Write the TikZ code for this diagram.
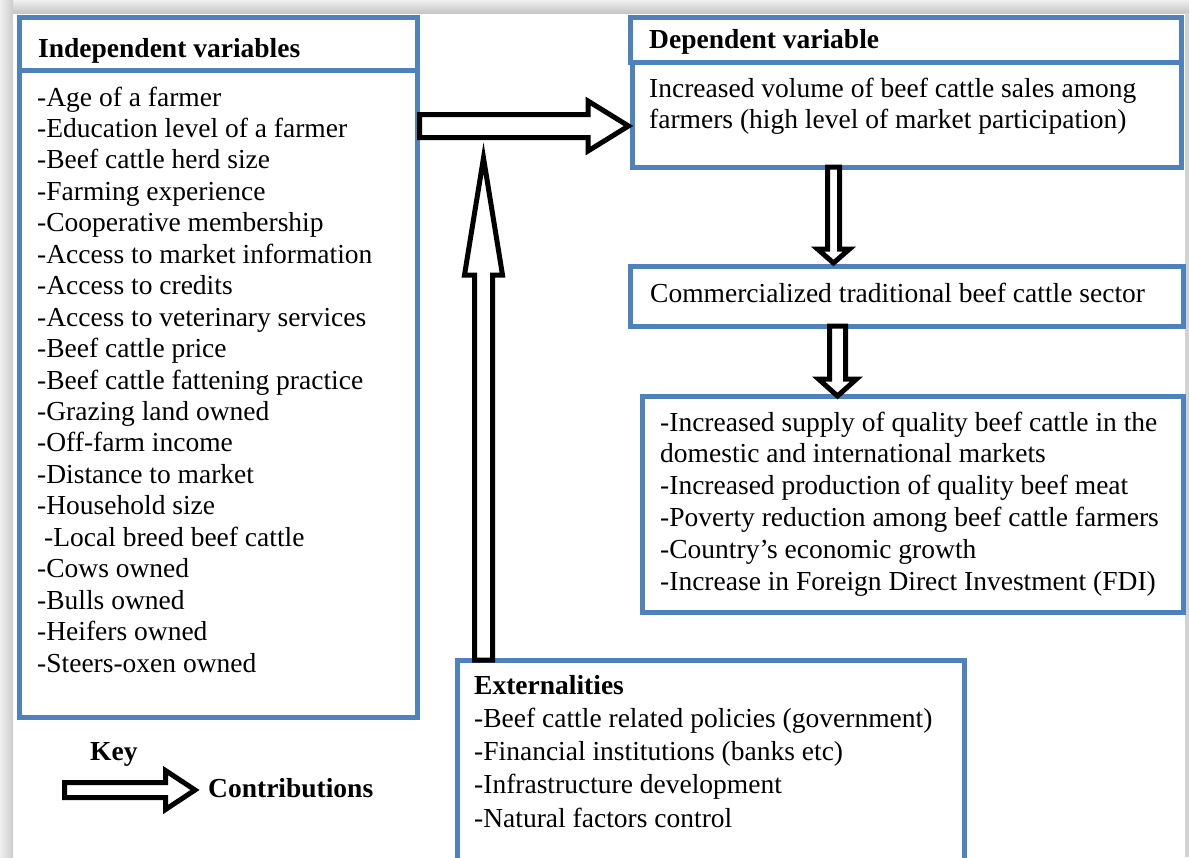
\documentclass[tikz,border=0pt]{standalone}
\usepackage{fontspec}
\setmainfont{Liberation Serif}
\usetikzlibrary{calc}
\definecolor{boxblue}{HTML}{4F81BD}

\newcommand{\contribarrow}[5]{%
  \coordinate (hb) at ($(#2)!#5!(#1)$);
  \draw[contrib] ($(#1)!#3!90:(#2)$) -- ($(hb)!#3!90:(#2)$) -- ($(hb)!#4!90:(#2)$) -- (#2)
    -- ($(hb)!#4!-90:(#2)$) -- ($(hb)!#3!-90:(#2)$) -- ($(#1)!#3!-90:(#2)$) -- cycle;
}

\begin{document}
\begin{tikzpicture}[x=1pt,y=-1pt,
    box/.style={draw=boxblue,line width=5pt,fill=white,anchor=north west,inner sep=0pt,outer sep=0pt},
    txt/.style={anchor=base west,inner sep=0pt,align=left,font=\fontsize{27.5}{#1}\selectfont},
    txt/.default=31.6,
    hd/.style={txt,font=\fontsize{27.5}{31.6}\selectfont\bfseries},
    contrib/.style={draw=black,line width=5pt,fill=white}]
    \useasboundingbox (0,0) rectangle (1189,857);
    \shade[top color=gray!12,bottom color=gray!45] (0,0) rectangle (1189,13);
    \shade[left color=gray!12,right color=gray!40] (0,0) rectangle (13,857);
    \fill[gray!35] (1185,13) rectangle (1189,857);

    \node[box,minimum width=398pt,minimum height=52.5pt] (indHead) at (19.5,17.5) {};
    \node[box,minimum width=398pt,minimum height=647pt] (indList) at (19.5,70) {};
    \node[box,minimum width=551pt,minimum height=44.5pt] (depHead) at (630.5,17.5) {};
    \node[box,minimum width=549pt,minimum height=105pt] (depBody) at (632.5,62) {};
    \node[box,minimum width=553pt,minimum height=60pt] (comm) at (630,266) {};
    \node[box,minimum width=541pt,minimum height=216pt] (outc) at (642,396) {};
    \node[box,minimum width=507pt,minimum height=215pt] (ext) at (457.5,660) {};

    % multi-line texts sit on the baseline of their last line
    \node[hd] (indTitle) at (38,57) {Independent variables};
    \node[txt=31.44] (indVars) at (37,672) {-Age of a farmer\\-Education level of a farmer\\-Beef cattle herd size\\
        -Farming experience\\-Cooperative membership\\-Access to market information\\-Access to credits\\
        -Access to veterinary services\\-Beef cattle price\\-Beef cattle fattening practice\\-Grazing land owned\\
        -Off-farm income\\-Distance to market\\-Household size\\\hspace*{7pt}-Local breed beef cattle\\
        -Cows owned\\-Bulls owned\\-Heifers owned\\-Steers-oxen owned};
    \node[hd] (depTitle) at (649,48) {Dependent variable};
    \node[txt=31] (depText) at (649,128) {Increased volume of beef cattle sales among\\farmers (high level of market participation)};
    \node[txt] (commText) at (650,302) {Commercialized traditional beef cattle sector};
    \node[txt=31.8] (outcText) at (660,590) {-Increased supply of quality beef cattle in the\\domestic and international markets\\
        -Increased production of quality beef meat\\-Poverty reduction among beef cattle farmers\\
        -Country’s economic growth\\-Increase in Foreign Direct Investment (FDI)};
    \node[hd] (extTitle) at (474,694) {Externalities};
    \node[txt=33.3] (extText) at (474,827) {-Beef cattle related policies (government)\\-Financial institutions (banks etc)\\
        -Infrastructure development\\-Natural factors control};
    \node[hd] (keyTitle) at (90,760) {Key};
    \node[hd] (keyLabel) at (208,797) {Contributions};

    \coordinate (hS) at ($(indList.north east)+(2,56)$);
    \coordinate (hT) at ($(depBody.west |- hS)+(-4,0)$);
    \coordinate (vS) at ($(ext.north west)+(26,0)$);
    \coordinate (vT) at ($(vS |- hS)+(0,32)$);
    \coordinate (d1S) at ($(depBody.south west)+(201,0)$);
    \coordinate (d1T) at ($(d1S |- comm.north)+(0,-3)$);
    \coordinate (d2S) at ($(comm.south west)+(207.5,0)$);
    \coordinate (d2T) at (d2S |- outc.north);
    \coordinate (keyS) at (64.5,790);
    \coordinate (keyT) at ($(keyLabel.west |- keyS)+(-13,0)$);

    \contribarrow{vS}{vT}{9pt}{19pt}{117pt}
    \contribarrow{hS}{hT}{11.5pt}{25pt}{40.5pt}
    \contribarrow{d1S}{d1T}{6pt}{16pt}{14pt}
    \contribarrow{d2S}{d2T}{8pt}{19pt}{17pt}
    \contribarrow{keyS}{keyT}{7.5pt}{19.5pt}{29.5pt}
\end{tikzpicture}
\end{document}
